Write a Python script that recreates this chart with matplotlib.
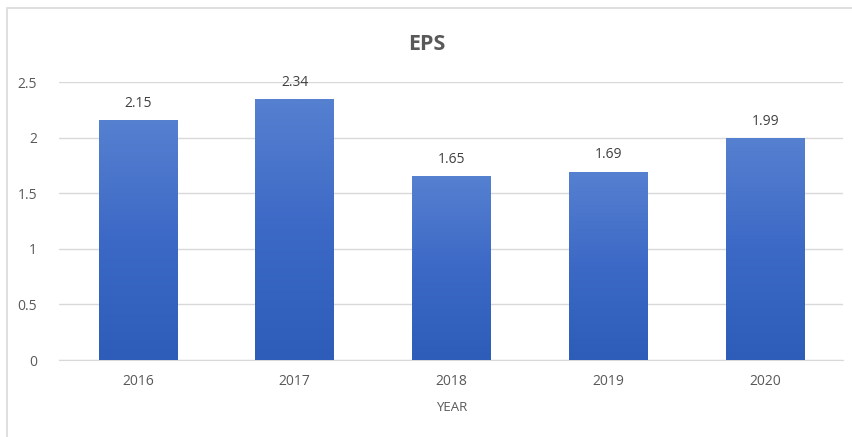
import numpy as np
import matplotlib
matplotlib.use("Agg")
import matplotlib.pyplot as plt
from matplotlib.colors import LinearSegmentedColormap
from matplotlib.patches import Rectangle

years = ["2016", "2017", "2018", "2019", "2020"]
eps = [2.15, 2.34, 1.65, 1.69, 1.99]
y_ticks = [0, 0.5, 1, 1.5, 2, 2.5]
y_tick_labels = ["0", "0.5", "1", "1.5", "2", "2.5"]

plt.rcParams['font.family'] = ['Open Sans', 'DejaVu Sans']

fig = plt.figure(figsize=(8.53, 4.37), dpi=100)
fig.patch.set_facecolor('white')

# light frame around the chart area
fig.patches.append(Rectangle((7 / 853, -0.05), 1.2, 1 - 8 / 437 + 0.05,
                             transform=fig.transFigure, fill=False,
                             edgecolor='#d9d9d9', linewidth=1.2))

ax = fig.add_axes([59.5 / 853, 1 - 360 / 437, 784 / 853, 278 / 437])

x = np.arange(len(years))
bars = ax.bar(x, eps, width=0.5, color='none', zorder=3)

# vertical gradient: lighter on top, darker at the bottom
cmap = LinearSegmentedColormap.from_list('eps_grad', ['#2d5cb9', '#3c69c6', '#5680d0'])
grad = np.linspace(0, 1, 256).reshape(-1, 1)
for b in bars:
    x0, w, h = b.get_x(), b.get_width(), b.get_height()
    ax.imshow(grad, extent=[x0, x0 + w, 0, h], origin='lower', aspect='auto',
              cmap=cmap, zorder=3)

for xi, v in zip(x, eps):
    ax.annotate(f"{v:g}", (xi, v), xytext=(0, 7), textcoords='offset points',
                ha='center', va='bottom', fontsize=10, color='#404040')

ax.set_xlim(-0.5, len(years) - 0.5)
ax.set_ylim(0, 2.5)
ax.set_yticks(y_ticks)
ax.set_yticklabels(y_tick_labels)
ax.set_xticks(x)
ax.set_xticklabels(years)
ax.grid(axis='y', color='#d9d9d9', linewidth=1, zorder=0)
ax.set_axisbelow(True)
for s in ['top', 'right', 'left']:
    ax.spines[s].set_visible(False)
ax.spines['bottom'].set_color('#d9d9d9')
ax.tick_params(axis='both', length=0, labelsize=10, labelcolor='#595959')
ax.tick_params(axis='y', pad=16)
ax.tick_params(axis='x', pad=10)
ax.set_xlabel("YEAR", fontsize=9.5, color='#595959', labelpad=9)

fig.text(0.5, 1 - 45 / 437, "EPS", ha='center', va='center',
         fontsize=15.5, fontweight='bold', color='#595959')

fig.savefig("out.png", dpi=100)
